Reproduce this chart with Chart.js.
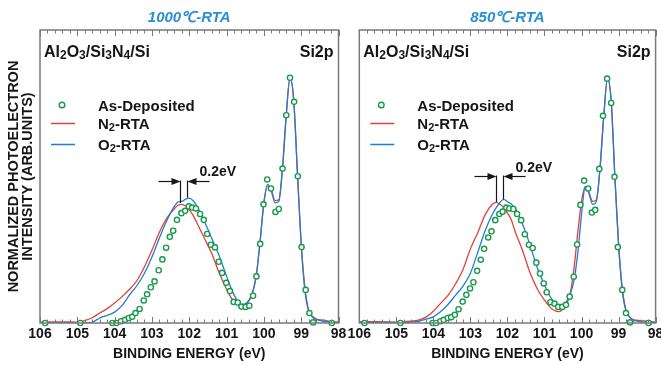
<!DOCTYPE html>
<html>
<head>
<meta charset="utf-8">
<script src="https://cdn.jsdelivr.net/npm/chart.js@4.4.1/dist/chart.umd.min.js"></script>
<style>
  html, body { margin: 0; padding: 0; background: #fff; }
  #wrap { position: relative; width: 661px; height: 365px; overflow: hidden; }
  canvas { position: absolute; top: 0; }
  #c1000 { left: 0; }
  #c850 { left: 340px; }
</style>
</head>
<body>
<div id="wrap">
  <canvas id="c1000" width="352" height="365"></canvas>
  <canvas id="c850" width="321" height="365"></canvas>
</div>
<script>
// binding energy grid (eV) shared by the measured RTA spectra
const energyGrid = [106, 105.5, 105, 104.8, 104.6, 104.4, 104.2, 104.0, 103.8, 103.6, 103.4, 103.2, 103.0,
  102.8, 102.6, 102.4, 102.3, 102.2, 102.1, 102.0, 101.9, 101.8, 101.6, 101.4, 101.2, 101.0,
  100.8, 100.6, 100.5, 100.4, 100.3, 100.2, 100.1, 100.0, 99.9, 99.8, 99.7, 99.6, 99.5, 99.4,
  99.3, 99.2, 99.1, 99.0, 98.9, 98.8, 98.7, 98.6, 98.4, 98.2, 98.0];

// 1000C RTA
const n2_1000 = [0.3, 0.4, 0.3, 0.8, 1.8, 3.4, 4.9, 6.8, 9.0, 11.5, 14.5, 19.2, 24.8,
  31.0, 35.8, 39.0, 40.2, 40.5, 39.9, 38.6, 36.8, 34.3, 29.1, 23.8, 17.2, 11.5,
  7.2, 6.0, 6.2, 7.5, 10.5, 16.5, 28, 41, 46.7, 45.5, 41.8, 42, 53, 71,
  83.7, 76, 51, 27, 12, 4.5, 2.0, 1.3, 1.0, 0.5, 0.3];
const o2_1000 = [0.1, 0.1, 0.1, 0.1, 0.3, 1.7, 2.6, 3.7, 6.0, 9.6, 12.8, 17.0, 22.5,
  29.0, 35.0, 39.8, 41.3, 41.5, 42.3, 42.6, 41.8, 40.0, 34.8, 29.0, 23.0, 16.0,
  9.6, 6.3, 6.5, 7.8, 10.5, 16.5, 28, 41, 47.3, 45.0, 41.0, 41.5, 53, 71,
  83.7, 76, 51, 27, 11, 4, 2.3, 1.3, 0.6, 0.3, 0.1];

// 850C RTA
const n2_850 = [0.4, 0.5, 0.3, 0.5, 0.6, 1.0, 2.0, 4.0, 6.8, 9.5, 13.4, 18.3, 25.3,
  30.9, 37.0, 40.6, 41.2, 40.5, 39.3, 37.5, 35.3, 31.5, 25.0, 17.5, 11.8, 7.8,
  4.8, 3.9, 5.0, 7.5, 10.5, 19, 31, 41.5, 46.5, 44.5, 41.5, 42, 53, 70.5,
  83.4, 76, 50, 27, 12, 4.5, 2.0, 1.2, 0.8, 0.6, 0.3];
const o2_850 = [0.3, 0.2, 0.2, 0.2, 0.3, 0.6, 1.3, 2.1, 3.9, 6.4, 9.5, 12.6, 17.0,
  24.2, 31.6, 37.3, 39.4, 41.2, 42.2, 41.4, 40.6, 39.3, 34.0, 27.0, 19.0, 13.0,
  8.1, 5.4, 4.8, 6.6, 10.0, 14.7, 24, 37, 46.5, 44.2, 40.5, 41.5, 53, 70.5,
  83.4, 76, 50, 27, 11, 4, 2.0, 1.0, 0.5, 0.3, 0.2];

// as-deposited reference points
const asDepE_1000 = [105.86, 104.92, 104.06, 103.95, 103.83, 103.72, 103.62, 103.53, 103.44, 103.33,
  103.22, 103.13, 103.03, 102.93, 102.82, 102.72, 102.62, 102.52, 102.43, 102.33,
  102.21, 102.11, 102.01, 101.92, 101.82, 101.71, 101.61, 101.52, 101.42, 101.31,
  101.21, 101.12, 101.01, 100.91, 100.81, 100.70, 100.60, 100.49, 100.39, 100.29,
  100.20, 100.10, 100.01, 99.91, 99.81, 99.69, 99.60, 99.50, 99.40, 99.30,
  99.19, 99.09, 98.99, 98.88, 98.78, 98.68, 98.18];
const asDep_1000 = [0, 0, 0, 0, 0.6, 1.1, 1.7, 2.1, 3.4, 4.8,
  7.7, 9.8, 12.2, 14.2, 18.0, 21.7, 25.7, 29.4, 31.5, 35.2,
  37.5, 38.3, 39.8, 39.4, 39.1, 37.2, 35.2, 30.4, 26.7, 25.8,
  20.9, 17.1, 13.7, 10.9, 7.2, 7.0, 5.6, 5.5, 5.9, 9.3,
  15.9, 27.0, 40.5, 49.0, 45.9, 37.9, 38.9, 52.7, 70.9, 83.7,
  75.5, 50.1, 25.9, 11.3, 3.4, 0.2, 0];
const asDepE_850 = [105.86, 104.89, 104.02, 103.93, 103.81, 103.72, 103.61, 103.52, 103.42, 103.32,
  103.21, 103.11, 103.01, 102.92, 102.82, 102.72, 102.63, 102.52, 102.43, 102.33,
  102.22, 102.13, 102.03, 101.95, 101.84, 101.74, 101.63, 101.53, 101.42, 101.32,
  101.22, 101.12, 101.02, 100.94, 100.84, 100.73, 100.63, 100.52, 100.42, 100.32,
  100.21, 100.12, 100.03, 99.93, 99.82, 99.72, 99.63, 99.52, 99.42, 99.31,
  99.20, 99.11, 99.02, 98.90, 98.80, 98.69, 98.19];
const asDep_850 = [0, 0, 0, 0, 0.6, 1.1, 1.7, 2.0, 2.8, 4.7,
  7.3, 9.6, 11.8, 13.9, 17.8, 21.6, 25.3, 29.2, 31.3, 35.1,
  37.2, 38.0, 39.4, 39.1, 38.9, 37.2, 35.1, 30.3, 26.7, 25.6,
  20.6, 16.9, 13.5, 10.5, 7.1, 6.6, 5.5, 5.5, 6.2, 9.0,
  15.8, 26.8, 40.3, 48.6, 45.9, 37.7, 38.6, 52.6, 70.7, 83.4,
  75.1, 49.9, 25.9, 11.3, 3.4, 0.2, 0];

// 0.2 eV peak shift markers: peak energies (N2, O2) and the peak heights they drop to
const shift_1000 = { e: [102.25, 102.05], ends: [41.0, 42.8], arrowAt: 48.5, labelAt: 50.2 };
const shift_850 = { e: [102.32, 102.12], ends: [41.3, 42.2], arrowAt: 50.2, labelAt: 51.7 };

const FONT = "'Liberation Sans', Arial, Helvetica, sans-serif";
const RED = '#e5403a';
const BLUE = '#1f7fcf';
const GREEN = '#179a4c';
const INK = '#151515';

Chart.defaults.font.family = FONT;
Chart.defaults.color = INK;

// bold text where "_n" is written as a subscript digit
function drawRich(ctx, str, x, y, size, align) {
  const parts = str.split(/(_\d)/).filter(s => s);
  const main = 'bold ' + size + 'px ' + FONT;
  const sub = 'bold ' + Math.round(size * 0.72) + 'px ' + FONT;
  let w = 0;
  parts.forEach(p => {
    const isSub = p[0] === '_';
    ctx.font = isSub ? sub : main;
    w += ctx.measureText(isSub ? p.slice(1) : p).width;
  });
  let cx = align === 'right' ? x - w : x;
  ctx.textAlign = 'left';
  ctx.textBaseline = 'alphabetic';
  parts.forEach(p => {
    const isSub = p[0] === '_';
    const t = isSub ? p.slice(1) : p;
    ctx.font = isSub ? sub : main;
    ctx.fillText(t, cx, y + (isSub ? size * 0.14 : 0));
    cx += ctx.measureText(t).width;
  });
}

function arrow(ctx, fromX, toX, y) {
  const dir = Math.sign(toX - fromX);
  ctx.beginPath();
  ctx.moveTo(fromX, y);
  ctx.lineTo(toX - dir * 6, y);
  ctx.stroke();
  ctx.beginPath();
  ctx.moveTo(toX, y);
  ctx.lineTo(toX - dir * 9, y - 3.5);
  ctx.lineTo(toX - dir * 9, y + 3.5);
  ctx.closePath();
  ctx.fill();
}

// frame, inward ticks, in-plot labels, legend and the shift marker
const decor = {
  id: 'decor',
  afterDraw(chart, args, o) {
    const { ctx, chartArea: a, scales: { x, y } } = chart;
    ctx.save();

    ctx.strokeStyle = '#7a7a7a';
    ctx.lineWidth = 1;
    for (let i = 0; i <= 40; i++) {
      const px = Math.round(x.getPixelForValue(98 + i * 0.2)) + 0.5;
      const len = i % 5 === 0 ? 6 : 3.5;
      ctx.beginPath();
      ctx.moveTo(px, a.top);
      ctx.lineTo(px, a.top + len);
      ctx.moveTo(px, a.bottom);
      ctx.lineTo(px, a.bottom - len);
      ctx.stroke();
    }
    ctx.lineWidth = 1.5;
    ctx.strokeRect(a.left, a.top, a.width, a.height);

    ctx.fillStyle = INK;
    drawRich(ctx, 'Al_2O_3/Si_3N_4/Si', a.left + 4, a.top + 26.5, 16);
    drawRich(ctx, 'Si2p', a.right - 5, a.top + 26.5, 16, 'right');

    // legend
    const lx = a.left + 22, tx = a.left + 58;
    ctx.strokeStyle = GREEN;
    ctx.lineWidth = 1.4;
    ctx.beginPath();
    ctx.arc(lx, a.top + 75, 2.8, 0, Math.PI * 2);
    ctx.stroke();
    ctx.lineWidth = 1.5;
    ctx.strokeStyle = RED;
    ctx.beginPath();
    ctx.moveTo(a.left + 11, a.top + 93.5);
    ctx.lineTo(a.left + 35, a.top + 93.5);
    ctx.stroke();
    ctx.strokeStyle = BLUE;
    ctx.beginPath();
    ctx.moveTo(a.left + 11, a.top + 114.5);
    ctx.lineTo(a.left + 35, a.top + 114.5);
    ctx.stroke();
    ctx.fillStyle = INK;
    drawRich(ctx, 'As-Deposited', tx, a.top + 80.5, 15);
    drawRich(ctx, 'N_2-RTA', tx, a.top + 99, 15);
    drawRich(ctx, 'O_2-RTA', tx, a.top + 120, 15);

    // peak shift marker
    const s = o.shift;
    const ay = Math.round(y.getPixelForValue(s.arrowAt)) + 0.5;
    const xs = s.e.map(e => Math.round(x.getPixelForValue(e)) + 0.5);
    ctx.strokeStyle = INK;
    ctx.fillStyle = INK;
    ctx.lineWidth = 1.2;
    xs.forEach((px, i) => {
      ctx.beginPath();
      ctx.moveTo(px, ay - 1);
      ctx.lineTo(px, y.getPixelForValue(s.ends[i]));
      ctx.stroke();
    });
    arrow(ctx, xs[0] - 22, xs[0], ay);
    arrow(ctx, xs[1] + 22, xs[1], ay);
    ctx.font = 'bold 14px ' + FONT;
    ctx.textAlign = 'left';
    ctx.textBaseline = 'alphabetic';
    ctx.fillText('0.2eV', xs[1] + 12, y.getPixelForValue(s.labelAt));

    ctx.restore();
  }
};

function pts(xs, ys) {
  return xs.map((e, i) => ({ x: e, y: ys[i] }));
}

function panel(id, title, n2, o2, asE, asV, shift, pad, yTitle) {
  return new Chart(document.getElementById(id), {
    type: 'scatter',
    data: {
      datasets: [
        {
          label: 'As-Deposited', data: pts(asE, asV), showLine: false, clip: false,
          pointRadius: 2.6, pointBorderWidth: 1.4, pointBorderColor: GREEN, pointBackgroundColor: '#fff'
        },
        {
          label: 'O2-RTA', data: pts(energyGrid, o2), showLine: true, borderColor: BLUE,
          borderWidth: 1.3, pointRadius: 0, cubicInterpolationMode: 'monotone'
        },
        {
          label: 'N2-RTA', data: pts(energyGrid, n2), showLine: true, borderColor: RED,
          borderWidth: 1.3, pointRadius: 0, cubicInterpolationMode: 'monotone'
        }
      ]
    },
    options: {
      responsive: false,
      animation: false,
      events: [],
      layout: { padding: pad },
      scales: {
        x: {
          type: 'linear', reverse: true, min: 98, max: 106,
          grid: { display: false, drawTicks: false },
          border: { display: false },
          ticks: { stepSize: 1, padding: 3, color: INK, font: { size: 14, weight: 'bold' } },
          title: { display: true, text: 'BINDING ENERGY (eV)', color: INK, padding: 0, font: { size: 14, weight: 'bold' } },
          afterFit(scale) { scale.paddingLeft = 0; scale.paddingRight = 0; }
        },
        y: {
          min: 0, max: 100,
          display: yTitle,
          grid: { display: false, drawTicks: false },
          border: { display: false },
          ticks: { display: false },
          title: {
            display: true, text: ['NORMALIZED PHOTOELECTRON', 'INTENSITY (ARB.UNITS)'],
            color: INK, padding: { top: 4, bottom: 4.75 }, font: { size: 14.5, weight: 'bold', lineHeight: 1 }
          }
        }
      },
      plugins: {
        legend: { display: false },
        tooltip: { enabled: false },
        title: {
          display: true, text: title, fullSize: false, color: '#2b8fd2',
          padding: { top: 0, bottom: 3 }, font: { size: 15, style: 'italic', weight: 'bold' }
        },
        decor: { shift: shift }
      }
    },
    plugins: [decor]
  });
}

panel('c1000', '1000\u2103-RTA', n2_1000, o2_1000, asDepE_1000, asDep_1000, shift_1000,
  { top: 9, left: 2.25, right: 13.5, bottom: 2.4 }, true);
panel('c850', '850\u2103-RTA', n2_850, o2_850, asDepE_850, asDep_850, shift_850,
  { top: 9, left: 19.3, right: 3.4, bottom: 2.4 }, false);
</script>
</body>
</html>
